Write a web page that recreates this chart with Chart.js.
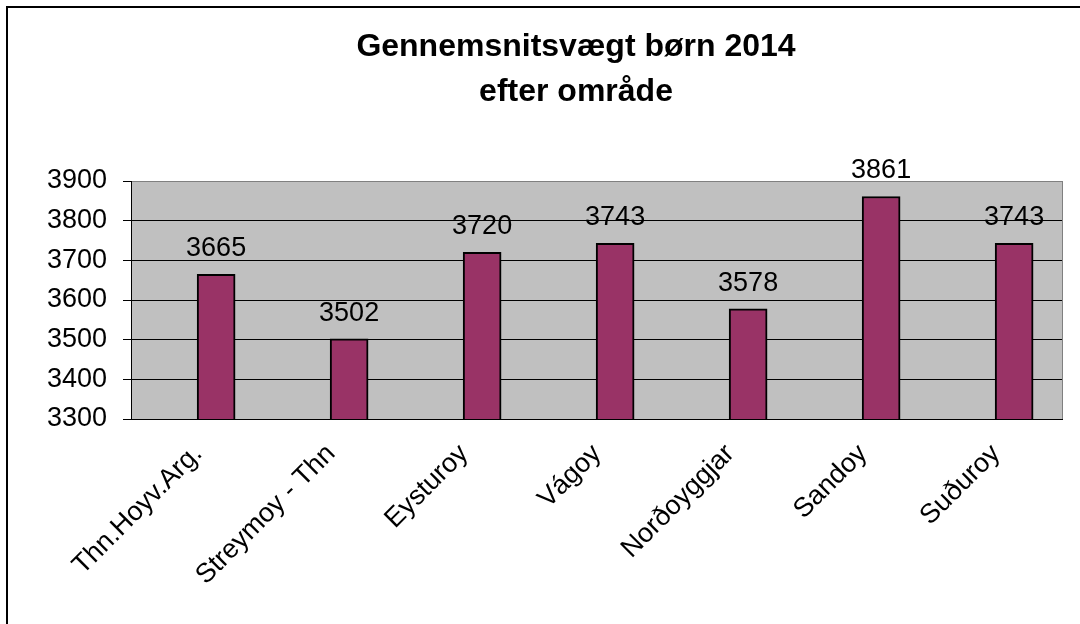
<!DOCTYPE html>
<html>
<head>
<meta charset="utf-8">
<script src="https://cdn.jsdelivr.net/npm/chart.js@4.4.1/dist/chart.umd.min.js"></script>
<style>
  html, body { margin: 0; padding: 0; background: #fff; }
  #wrap { width: 1080px; height: 624px; position: relative; }
</style>
</head>
<body>
<div id="wrap"><canvas id="chart" width="1080" height="624"></canvas></div>
<script>
const titelLinjer = ['Gennemsnitsvægt børn 2014', 'efter område'];
const omraade = ['Thn.Hoyv.Arg.', 'Streymoy - Thn', 'Eysturoy', 'Vágoy', 'Norðoyggjar', 'Sandoy', 'Suðuroy'];
const vaegt = [3665, 3502, 3720, 3743, 3578, 3861, 3743];
const yTicks = [3300, 3400, 3500, 3600, 3700, 3800, 3900];

const FONT = "'Liberation Sans', Arial, sans-serif";
Chart.defaults.color = '#000';
Chart.defaults.font.family = FONT;

// grey plot background, outer frame and title
const plotBg = {
  id: 'plotBg',
  beforeDraw(chart) {
    const { ctx, chartArea: a } = chart;
    ctx.save();
    ctx.strokeStyle = '#000';
    ctx.lineWidth = 2;
    ctx.strokeRect(7, 7, 1100, 700);
    ctx.fillStyle = '#c0c0c0';
    ctx.fillRect(a.left, a.top, a.right - a.left, a.bottom - a.top);
    ctx.strokeStyle = '#808080';
    ctx.lineWidth = 1;
    ctx.strokeRect(a.left + 0.5, a.top + 0.5, a.right - a.left, a.bottom - a.top);
    // title, centred like the original sheet chart
    ctx.fillStyle = '#000';
    ctx.font = 'bold 32px ' + FONT;
    ctx.textAlign = 'center';
    ctx.textBaseline = 'alphabetic';
    titelLinjer.forEach((t, i) => ctx.fillText(t, 576, 56 + i * 45));
    ctx.restore();
  }
};

// value labels above bars
const barLabels = {
  id: 'barLabels',
  afterDatasetsDraw(chart) {
    const { ctx } = chart;
    const meta = chart.getDatasetMeta(0);
    ctx.save();
    ctx.font = '27px ' + FONT;
    ctx.fillStyle = '#000';
    ctx.textAlign = 'center';
    ctx.textBaseline = 'alphabetic';
    meta.data.forEach((bar, i) => {
      ctx.fillText(String(vaegt[i]), bar.x, bar.y - 18);
    });
    ctx.restore();
  }
};

new Chart(document.getElementById('chart'), {
  type: 'bar',
  data: {
    datasets: [{
      data: vaegt.map((v, i) => ({ x: i, y: v })),
      backgroundColor: '#993366',
      borderColor: '#000',
      borderWidth: 2,
      barThickness: 38
    }]
  },
  options: {
    responsive: false,
    animation: false,
    layout: { padding: { left: 0, right: 18, top: 181, bottom: 0 } },
    plugins: {
      legend: { display: false },
      tooltip: { enabled: false },
      title: { display: false }
    },
    scales: {
      x: {
        type: 'linear',
        offset: false,
        min: -0.64,
        max: 6.36,
        grid: { display: false, drawTicks: false },
        border: { color: '#000', width: 1 },
        afterBuildTicks(scale) { scale.ticks = omraade.map((_, i) => ({ value: i })); },
        afterFit(scale) {
          scale.height = 205;
          scale.paddingLeft = 0;
          scale.paddingRight = 0;
        },
        ticks: {
          autoSkip: false,
          maxRotation: 45,
          minRotation: 45,
          padding: 19,
          labelOffset: -18,
          font: { size: 27, family: FONT },
          color: '#000',
          callback: (v) => omraade[v]
        }
      },
      y: {
        min: yTicks[0],
        max: yTicks[yTicks.length - 1],
        afterFit(scale) { scale.width = 131; },
        afterBuildTicks(scale) { scale.ticks = yTicks.map(v => ({ value: v })); },
        grid: {
          color: (c) => c.tick && c.tick.value === yTicks[yTicks.length - 1] ? '#808080' : '#000',
          tickColor: '#000',
          tickLength: 8,
          lineWidth: 1
        },
        border: { color: '#000', width: 1 },
        ticks: {
          padding: 16,
          font: { size: 27, family: FONT },
          color: '#000',
          callback: (v) => String(v)
        }
      }
    }
  },
  plugins: [plotBg, barLabels]
});
</script>
</body>
</html>
